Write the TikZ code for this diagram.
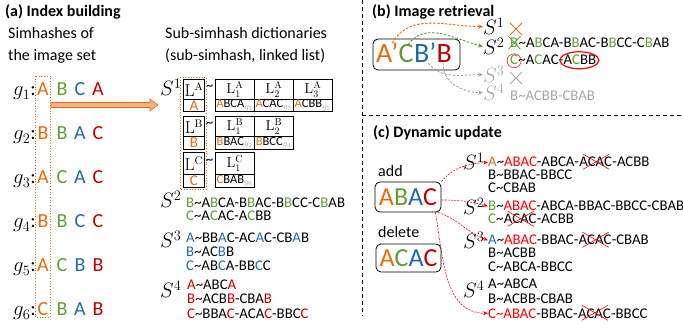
\documentclass[tikz,border=0pt]{standalone}
\usepackage[no-math]{fontspec}
\setmainfont{Carlito}
\usetikzlibrary{arrows.meta}
\definecolor{cO}{HTML}{E46C0A}
\definecolor{cG}{HTML}{5E9E32}
\definecolor{cB}{HTML}{1F69B0}
\definecolor{cR}{HTML}{C00000}
\definecolor{cRR}{HTML}{FF0000}
\definecolor{cGr}{HTML}{A6A6A6}
\definecolor{cOf}{HTML}{F4B183}
\newcommand{\fs}[1]{\fontsize{#1}{#1}\selectfont}
\newcommand{\tO}[1]{\textcolor{cO}{#1}}
\newcommand{\tG}[1]{\textcolor{cG}{#1}}
\newcommand{\tB}[1]{\textcolor{cB}{#1}}
\newcommand{\tR}[1]{\textcolor{cR}{#1}}
\newcommand{\tRR}[1]{\textcolor{cRR}{#1}}
\newcommand{\tld}{\textasciitilde}
\newcommand{\gs}[1]{\textcolor{cGr}{$_{g_{#1}}$}}
\begin{document}
\begin{tikzpicture}[x=1pt,y=-1pt,
  title/.style={anchor=base west,inner sep=0pt,font=\fs{16}\bfseries},
  lbl/.style={anchor=base west,inner sep=0pt,font=\fs{16}},
  big/.style={anchor=base,inner sep=0pt,font=\fs{20}},
  glab/.style={anchor=base east,inner sep=0pt,font=\fs{20}},
  slab/.style={anchor=base west,inner sep=0pt,font=\fs{20}},
  lst/.style={anchor=base west,inner sep=0pt,font=\fs{14.8}},
  cellL/.style={draw,line width=0.8pt,inner sep=0pt,minimum width=21pt,minimum height=20pt,anchor=north west,font=\fs{16}},
  cellLb/.style={draw,line width=0.8pt,inner sep=0pt,minimum width=21pt,minimum height=12pt,anchor=north west,font=\fs{15}},
  cellT/.style={draw,line width=0.8pt,inner sep=0pt,minimum width=39pt,minimum height=20pt,anchor=north west,font=\fs{14.4}},
  cellTb/.style={draw,line width=0.8pt,inner sep=0pt,minimum width=39pt,minimum height=12pt,anchor=north west,font=\fs{12.5}},
  panel/.style={line width=1pt,dash pattern=on 4pt off 3pt},
  qbox/.style={draw,line width=0.8pt,rounded corners=5pt,inner sep=0pt},
  darr/.style={line width=0.9pt,dash pattern=on 2.5pt off 1.5pt,-{Stealth[length=5pt,width=4.5pt]}},
  rarr/.style={cRR,line width=0.6pt,dash pattern=on 2pt off 1.2pt,-{Stealth[length=5pt,width=4pt]}},
  crs/.style={line width=0.6pt}
]
\useasboundingbox (0,0) rectangle (683,331);
% panel separators
\draw[panel] (362,0) -- (362,316);
\draw[panel] (362,116) -- (683,116);

% ===== (a) =====
\node[title] (ta) at (5,17) {(a) Index building};
\node[lbl] (sa1) at (8,39) {Simhashes of};
\node[lbl] (sa2) at (8,61) {the image set};
\foreach \i/\a/\b/\c/\d in {1/A/B/C/A,2/B/B/A/C,3/A/C/A/C,4/B/B/C/C,5/A/C/B/B,6/C/B/A/B}{
  \pgfmathsetmacro{\yy}{96+44*(\i-1)}
  \node[glab] (g\i) at (36,\yy) {$g_{\i}$:};
  \node[big,text=cO] (g\i a) at (43,\yy) {\a};
  \node[big,text=cG] (g\i b) at (62,\yy) {\b};
  \node[big,text=cB] (g\i c) at (80,\yy) {\c};
  \node[big,text=cR] (g\i d) at (98,\yy) {\d};
}
\draw[cO,dotted,line width=0.7pt] (35,76) rectangle (50,317);
\draw[cO,fill=cOf,line width=0.6pt] (51,102.5) -- (150,102.5) -- (150,99) -- (158,105) -- (150,111) -- (150,107.5) -- (51,107.5) -- cycle;

\node[lbl] (sd1) at (165,39) {Sub-simhash dictionaries};
\node[lbl] (sd2) at (165,61) {(sub-simhash, linked list)};
\node[slab] (s1) at (160,96) {$S^1$};
% row A
\node[cellL] (LA) at (183,79) {$\mathrm{L}^{\mathrm{A}}$};
\node[cellLb] (LAb) at (183,99) {\tO{A}};
\node[inner sep=0pt,font=\fs{15}] (tA) at (209.5,88) {\tld};
\node[cellT] (LA1) at (215,79) {$\mathrm{L}_1^{\mathrm{A}}$};
\node[cellT] (LA2) at (254,79) {$\mathrm{L}_2^{\mathrm{A}}$};
\node[cellT] (LA3) at (293,79) {$\mathrm{L}_3^{\mathrm{A}}$};
\node[cellTb] (LA1b) at (215,99) {\tO{A}BCA\gs{1}};
\node[cellTb] (LA2b) at (254,99) {\tO{A}CAC\gs{3}};
\node[cellTb] (LA3b) at (293,99) {\tO{A}CBB\gs{5}};
% row B
\node[cellL] (LB) at (183,116) {$\mathrm{L}^{\mathrm{B}}$};
\node[cellLb,minimum height=13pt] (LBb) at (183,136) {\tO{B}};
\node[inner sep=0pt,font=\fs{15}] (tB) at (209.5,125) {\tld};
\node[cellT] (LB1) at (215,116) {$\mathrm{L}_1^{\mathrm{B}}$};
\node[cellT] (LB2) at (254,116) {$\mathrm{L}_2^{\mathrm{B}}$};
\node[cellTb,minimum height=13pt] (LB1b) at (215,136) {\tO{B}BAC\gs{2}};
\node[cellTb,minimum height=13pt] (LB2b) at (254,136) {\tO{B}BCC\gs{4}};
% row C
\node[cellL,minimum height=22pt] (LC) at (183,152) {$\mathrm{L}^{\mathrm{C}}$};
\node[cellLb,minimum height=13pt] (LCb) at (183,174) {\tO{C}};
\node[inner sep=0pt,font=\fs{15}] (tC) at (209.5,162) {\tld};
\node[cellT,minimum height=22pt] (LC1) at (215,152) {$\mathrm{L}_1^{\mathrm{C}}$};
\node[cellTb,minimum height=13pt] (LC1b) at (215,174) {\tO{C}BAB\gs{6}};
\draw[cO,dotted,line width=0.7pt] (180,77) rectangle (206,189);

\node[slab] (s2) at (160,208) {$S^2$};
\node[lst] (a21) at (186,208) {\tG{B}\tld A\tG{B}CA-B\tG{B}AC-B\tG{B}CC-C\tG{B}AB};
\node[lst] (a22) at (186,221) {\tG{C}\tld A\tG{C}AC-A\tG{C}BB};
\node[slab] (s3) at (160,248) {$S^3$};
\node[lst] (a31) at (186,243) {\tB{A}\tld BB\tB{A}C-AC\tB{A}C-CB\tB{A}B};
\node[lst] (a32) at (186,257) {\tB{B}\tld AC\tB{B}B};
\node[lst] (a33) at (186,271) {\tB{C}\tld AB\tB{C}A-BB\tB{C}C};
\node[slab] (s4) at (160,298) {$S^4$};
\node[lst] (a41) at (187,290) {\tR{A}\tld ABC\tR{A}};
\node[lst] (a42) at (187,304) {\tR{B}\tld ACB\tR{B}-CBA\tR{B}};
\node[lst] (a43) at (187,318) {\tR{C}\tld BBA\tR{C}-ACA\tR{C}-BBC\tR{C}};

% ===== (b) =====
\node[title] (tb) at (372,17) {(b) Image retrieval};
\node[qbox,minimum width=87pt,minimum height=31pt] (bq) at (416.5,54.5) {};
\node[anchor=base west,inner sep=0pt,font=\fs{28},text=cO] (bqA) at (376,63) {A'};
\node[anchor=base west,inner sep=0pt,font=\fs{28},text=cG] (bqC) at (bqA.base east) {C};
\node[anchor=base west,inner sep=0pt,font=\fs{28},text=cB] (bqB) at (bqC.base east) {B'};
\node[anchor=base west,inner sep=0pt,font=\fs{28},text=cR] (bqR) at (bqB.base east) {B};
\node[slab] (bs1) at (483,35) {$S^1$};
\node[slab] (bs2) at (483,55) {$S^2$};
\node[slab,text=cGr] (bs3) at (483,83) {$S^3$};
\node[slab,text=cGr] (bs4) at (483,101) {$S^4$};
\draw[cO,crs,line width=0.8pt] (510,23) -- (522,35) (510,35) -- (522,23);
\draw[cGr,crs,line width=0.8pt] (510,72) -- (522,84) (510,84) -- (522,72);
\node[lst] (b21a) at (510,48) {\tG{B}};
\node[lst] (b21b) at (b21a.base east) {\tld A\tG{B}CA-B\tG{B}AC-B\tG{B}CC-C\tG{B}AB};
\draw[cG,line width=0.8pt] ([xshift=-1.5pt,yshift=-1pt]b21a.south west) -- ([xshift=2pt,yshift=2pt]b21a.north east)
  ([xshift=-1.5pt,yshift=2pt]b21a.north west) -- ([xshift=2pt,yshift=-1pt]b21a.south east);
\node[lst] (b22a) at (510,65) {\tG{C}};
\node[lst] (b22b) at (b22a.base east) {\tld A\tG{C}AC-};
\node[lst] (b22c) at (b22b.base east) {A\tG{C}BB};
\draw[cRR,line width=0.5pt] ([yshift=-0.5pt]b22a.center) circle (7pt);
\draw[cRR,line width=1.2pt] ([xshift=-0.5pt]b22c.center) ellipse (19.5pt and 8.5pt);
\node[lst,text=cGr] (b41) at (510,101) {B\tld ACBB-CBAB};
\draw[darr,cO] ([xshift=5pt]bqA.north) to[out=60,in=180] (bs1.west);
\draw[darr,cG] ([xshift=2pt]bqC.north) to[out=55,in=165] (bs2.west);
\draw[darr,cGr] ([xshift=3pt]bqB.south) to[out=-50,in=180] (bs3.west);
\draw[darr,cGr] ([xshift=-1pt]bqR.south) to[out=-95,in=180] (bs4.west);

% ===== (c) =====
\node[title] (tc) at (373,138) {(c) Dynamic update};
\node[lbl] (add) at (378,177) {add};
\node[qbox,minimum width=66pt,minimum height=30pt,font=\fs{26}] (addbox) at (408,197) {\tO{A}\tG{B}\tB{A}\tR{C}};
\node[lbl] (del) at (378,238) {delete};
\node[qbox,minimum width=65pt,minimum height=28pt,font=\fs{26}] (delbox) at (408.5,258) {\tO{A}\tG{C}\tB{A}\tR{C}};

\node[slab] (cs1) at (463,170) {$S^1$};
\node[lst] (c11a) at (488,167) {\tO{A}\tld\tRR{ABAC}-ABCA-};
\node[lst] (c11b) at (c11a.base east) {ACAC};
\node[lst] (c11c) at (c11b.base east) {-ACBB};
\node[lst] (c12) at (488,180) {B\tld BBAC-BBCC};
\node[lst] (c13) at (488,193) {C\tld CBAB};
\node[slab] (cs2) at (463,215) {$S^2$};
\node[lst] (c21) at (488,211) {\tG{B}\tld\tRR{ABAC}-ABCA-BBAC-BBCC-CBAB};
\node[lst] (c22a) at (488,224) {\tG{C}\tld};
\node[lst] (c22b) at (c22a.base east) {ACAC};
\node[lst] (c22c) at (c22b.base east) {-ACBB};
\node[slab] (cs3) at (463,249) {$S^3$};
\node[lst] (c31a) at (488,245) {\tB{A}\tld\tRR{ABAC}-BBAC-};
\node[lst] (c31b) at (c31a.base east) {ACAC};
\node[lst] (c31c) at (c31b.base east) {-CBAB};
\node[lst] (c32) at (488,258) {B\tld ACBB};
\node[lst] (c33) at (488,272) {C\tld ABCA-BBCC};
\node[slab] (cs4) at (463,298) {$S^4$};
\node[lst] (c41) at (488,289) {A\tld ABCA};
\node[lst] (c42) at (488,303) {B\tld ACBB-CBAB};
\node[lst] (c43a) at (488,318) {\tRR{C\tld ABAC}-BBAC-};
\node[lst] (c43b) at (c43a.base east) {ACAC};
\node[lst] (c43c) at (c43b.base east) {-BBCC};
\foreach \n in {c11b,c22b,c31b,c43b}{
  \draw[cRR,crs] ([xshift=4pt,yshift=-2pt]\n.south west) -- ([xshift=-3pt,yshift=3pt]\n.north east)
    ([xshift=4pt,yshift=3pt]\n.north west) -- ([xshift=-3pt,yshift=-2pt]\n.south east);
}
\draw[rarr] (addbox.north east) to[out=50,in=185] (c11a.west);
\draw[rarr] ([yshift=-3pt]addbox.east) to[out=0,in=165] (c21.west);
\draw[rarr] ([xshift=-3pt]addbox.south east) to[out=-20,in=160] (c31a.west);
\draw[rarr] ([xshift=-6pt]addbox.south east) to[out=-80,in=180] (c43a.west);
\end{tikzpicture}
\end{document}
